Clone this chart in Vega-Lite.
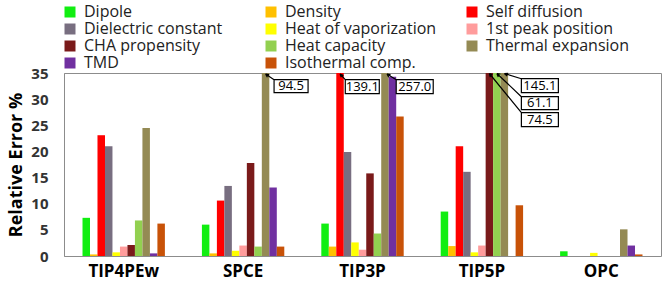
{
  "$schema": "https://vega.github.io/schema/vega-lite/v6.json",
  "autosize": {"type": "none"},
  "width": 597,
  "height": 183,
  "padding": {"left": 64, "top": 73, "right": 3, "bottom": 31},
  "config": {
    "view": {"stroke": "#8c8c8c", "strokeWidth": 1},
    "font": "Open Sans"
  },
  "datasets": {
    "errs": [
      {"model": "TIP4PEw", "prop": "Dipole", "value": 7.3},
      {"model": "TIP4PEw", "prop": "Density", "value": 0.3},
      {"model": "TIP4PEw", "prop": "Self diffusion", "value": 23.1},
      {"model": "TIP4PEw", "prop": "Dielectric constant", "value": 21.0},
      {"model": "TIP4PEw", "prop": "Heat of vaporization", "value": 0.7},
      {"model": "TIP4PEw", "prop": "1st peak position", "value": 1.8},
      {"model": "TIP4PEw", "prop": "CHA propensity", "value": 2.1},
      {"model": "TIP4PEw", "prop": "Heat capacity", "value": 6.8},
      {"model": "TIP4PEw", "prop": "Thermal expansion", "value": 24.5},
      {"model": "TIP4PEw", "prop": "TMD", "value": 0.5},
      {"model": "TIP4PEw", "prop": "Isothermal comp.", "value": 6.2},
      {"model": "SPCE", "prop": "Dipole", "value": 6.0},
      {"model": "SPCE", "prop": "Density", "value": 0.5},
      {"model": "SPCE", "prop": "Self diffusion", "value": 10.6},
      {"model": "SPCE", "prop": "Dielectric constant", "value": 13.4},
      {"model": "SPCE", "prop": "Heat of vaporization", "value": 1.0},
      {"model": "SPCE", "prop": "1st peak position", "value": 2.0},
      {"model": "SPCE", "prop": "CHA propensity", "value": 17.8},
      {"model": "SPCE", "prop": "Heat capacity", "value": 1.8},
      {"model": "SPCE", "prop": "Thermal expansion", "value": 94.5},
      {"model": "SPCE", "prop": "TMD", "value": 13.1},
      {"model": "SPCE", "prop": "Isothermal comp.", "value": 1.8},
      {"model": "TIP3P", "prop": "Dipole", "value": 6.2},
      {"model": "TIP3P", "prop": "Density", "value": 1.8},
      {"model": "TIP3P", "prop": "Self diffusion", "value": 139.1},
      {"model": "TIP3P", "prop": "Dielectric constant", "value": 19.9},
      {"model": "TIP3P", "prop": "Heat of vaporization", "value": 2.6},
      {"model": "TIP3P", "prop": "1st peak position", "value": 1.2},
      {"model": "TIP3P", "prop": "CHA propensity", "value": 15.8},
      {"model": "TIP3P", "prop": "Heat capacity", "value": 4.3},
      {"model": "TIP3P", "prop": "Thermal expansion", "value": 257.0},
      {"model": "TIP3P", "prop": "TMD", "value": 34.3},
      {"model": "TIP3P", "prop": "Isothermal comp.", "value": 26.7},
      {"model": "TIP5P", "prop": "Dipole", "value": 8.5},
      {"model": "TIP5P", "prop": "Density", "value": 1.9},
      {"model": "TIP5P", "prop": "Self diffusion", "value": 21.0},
      {"model": "TIP5P", "prop": "Dielectric constant", "value": 16.1},
      {"model": "TIP5P", "prop": "Heat of vaporization", "value": 0.7},
      {"model": "TIP5P", "prop": "1st peak position", "value": 2.0},
      {"model": "TIP5P", "prop": "CHA propensity", "value": 74.5},
      {"model": "TIP5P", "prop": "Heat capacity", "value": 61.1},
      {"model": "TIP5P", "prop": "Thermal expansion", "value": 145.1},
      {"model": "TIP5P", "prop": "TMD", "value": 0},
      {"model": "TIP5P", "prop": "Isothermal comp.", "value": 9.7},
      {"model": "OPC", "prop": "Dipole", "value": 0.9},
      {"model": "OPC", "prop": "Density", "value": 0},
      {"model": "OPC", "prop": "Self diffusion", "value": 0},
      {"model": "OPC", "prop": "Dielectric constant", "value": 0},
      {"model": "OPC", "prop": "Heat of vaporization", "value": 0.6},
      {"model": "OPC", "prop": "1st peak position", "value": 0},
      {"model": "OPC", "prop": "CHA propensity", "value": 0},
      {"model": "OPC", "prop": "Heat capacity", "value": 0},
      {"model": "OPC", "prop": "Thermal expansion", "value": 5.1},
      {"model": "OPC", "prop": "TMD", "value": 2.0},
      {"model": "OPC", "prop": "Isothermal comp.", "value": 0.3}
    ]
  },
  "data": {"name": "errs"},
  "encoding": {
    "x": {
      "field": "model", "type": "nominal",
      "sort": ["TIP4PEw", "SPCE", "TIP3P", "TIP5P", "OPC"],
      "scale": {"paddingInner": 0.31, "paddingOuter": 0.155},
      "axis": {
        "title": null, "labelAngle": 0, "ticks": false, "domain": false,
        "labelFont": "Open Sans", "labelFontSize": 17, "labelFontWeight": "bold",
        "labelColor": "#000000", "labelPadding": 7
      }
    },
    "xOffset": {
      "field": "prop", "type": "nominal",
      "sort": ["Dipole", "Density", "Self diffusion", "Dielectric constant", "Heat of vaporization", "1st peak position", "CHA propensity", "Heat capacity", "Thermal expansion", "TMD", "Isothermal comp."],
      "scale": {"paddingInner": 0, "paddingOuter": 0}
    },
    "y": {
      "field": "value", "type": "quantitative",
      "scale": {"domain": [0, 35], "clamp": true, "nice": false},
      "axis": {
        "title": "Relative Error %", "values": [0, 5, 10, 15, 20, 25, 30, 35],
        "grid": false, "ticks": false, "domainColor": "#8c8c8c", "labelOverlap": false,
        "labelFont": "Open Sans", "labelFontSize": 15, "labelFontWeight": "bold",
        "labelColor": "#333333", "labelPadding": 16,
        "titleFont": "Open Sans", "titleFontSize": 18, "titleFontWeight": "bold",
        "titleColor": "#000000", "titlePadding": 5
      }
    }
  },
  "layer": [
    {
      "mark": {"type": "bar", "clip": true},
      "encoding": {
        "color": {
          "field": "prop", "type": "nominal",
          "sort": ["Dipole", "Density", "Self diffusion", "Dielectric constant", "Heat of vaporization", "1st peak position", "CHA propensity", "Heat capacity", "Thermal expansion", "TMD", "Isothermal comp."],
          "scale": {
            "domain": ["Dipole", "Density", "Self diffusion", "Dielectric constant", "Heat of vaporization", "1st peak position", "CHA propensity", "Heat capacity", "Thermal expansion", "TMD", "Isothermal comp."],
            "range": ["#11ee11", "#ffc000", "#ff0000", "#786e80", "#ffff00", "#ff9c9c", "#7a1a1a", "#92d050", "#948a54", "#7030a0", "#c85208"]
          },
          "legend": {
            "title": null, "orient": "none", "direction": "horizontal", "columns": 3,
            "legendX": -2, "legendY": -69, "padding": 0,
            "gridAlign": "all", "columnPadding": 27, "rowPadding": 1,
            "symbolType": "square", "symbolSize": 121, "symbolStrokeWidth": 0,
            "labelOffset": 6, "labelFont": "Open Sans", "labelFontSize": 16,
            "labelColor": "#222222", "labelLimit": 300
          }
        }
      }
    },
    {
      "transform": [{"filter": "datum.value > 35"}],
      "mark": {"type": "point", "filled": true, "fill": "white", "stroke": "black", "strokeWidth": 1.2, "opacity": 1, "size": 4},
      "encoding": {
        "shape": {
          "field": "value", "type": "nominal", "legend": null,
          "scale": {
            "domain": [94.5, 139.1, 257.0, 145.1, 61.1, 74.5],
            "range": [
              "M0,1L8.5,6.7M0,1L3.6,1.6M0,1L1.8,4.2M8.5,6.7H42.5V19.7H8.5Z",
              "M0,1L5.25,6.7M0,1L3.4,2.6M0,1L1.2,4.2M5.25,6.7H39.25V20.7H5.25Z",
              "M2,1L11.25,6.7M2,1L5.6,1.6M2,1L3.8,4.2M11.25,6.7H48.25V20.7H11.25Z",
              "M0,0.5L17,5.7M0,0.5L3.8,0.3M0,0.5L2.8,3M17,5.7H54V19.7H17Z",
              "M0,0.5L24.5,23.7M0,0.5L3.6,1.2M0,0.5L1.4,3.9M24.5,23.7H61.5V36.7H24.5Z",
              "M0,0.5L32,39.7M0,0.5L3,1.6M0,0.5L0.9,4.2M32,39.7H69V53.7H32Z"
            ]
          }
        }
      }
    },
    {
      "transform": [{"filter": "datum.value > 35"}],
      "mark": {
        "type": "text", "font": "Open Sans", "fontSize": 13, "color": "#000000",
        "align": "center", "baseline": "middle",
        "dx": {"expr": "datum.value == 94.5 ? 25.5 : datum.value == 139.1 ? 22.25 : datum.value == 257 ? 29.75 : datum.value == 145.1 ? 35.5 : datum.value == 61.1 ? 43 : 50.5"},
        "dy": {"expr": "datum.value == 94.5 ? 13.2 : datum.value == 139.1 ? 13.7 : datum.value == 257 ? 13.7 : datum.value == 145.1 ? 12.7 : datum.value == 61.1 ? 30.2 : 46.7"}
      },
      "encoding": {
        "text": {"field": "value", "type": "quantitative", "format": ".1f"}
      }
    }
  ]
}
